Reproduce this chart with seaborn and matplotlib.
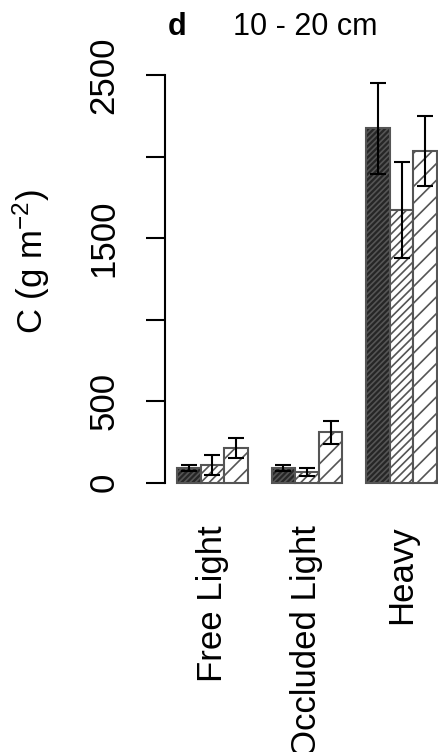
import numpy as np
import pandas as pd
import seaborn as sns
import matplotlib.pyplot as plt

# 数据
fractions = ['Free Light', 'Occluded Light', 'Heavy']
treatments = ['T1', 'T2', 'T3']
means_t1 = [90, 88, 2173]
means_t2 = [110, 67, 1673]
means_t3 = [212, 310, 2036]
errs_t1 = [20, 19, 278]
errs_t2 = [62, 23, 294]
errs_t3 = [60, 70, 215]
y_ticks = [0, 500, 1000, 1500, 2000, 2500]
y_tick_labels = ['0', '500', '', '1500', '', '2500']

means = [means_t1, means_t2, means_t3]
errs = [errs_t1, errs_t2, errs_t3]
rows = []
for t, m_list, e_list in zip(treatments, means, errs):
    for f, m, e in zip(fractions, m_list, e_list):
        rows.append({'fraction': f, 'treatment': t, 'carbon': m, 'err': e})
df = pd.DataFrame(rows)

sns.set_style('ticks')
plt.rcParams['font.family'] = ['Liberation Sans', 'DejaVu Sans']
plt.rcParams['mathtext.fontset'] = 'custom'
plt.rcParams['mathtext.rm'] = 'Liberation Sans'
plt.rcParams['mathtext.it'] = 'Liberation Sans'
plt.rcParams['text.color'] = 'black'
plt.rcParams['axes.labelcolor'] = 'black'
plt.rcParams['xtick.color'] = 'black'
plt.rcParams['ytick.color'] = 'black'
plt.rcParams['hatch.linewidth'] = 1.2

fig = plt.figure(figsize=(4.38, 7.52), dpi=100)
ax = fig.add_axes([165 / 438, 0.3364, 1 - 165 / 438, 0.5856])

sns.barplot(data=df, x='fraction', y='carbon', hue='treatment',
            order=fractions, hue_order=treatments, errorbar=None,
            width=0.75, gap=0, palette=['#262626', 'white', 'white'],
            edgecolor='#555555', linewidth=1.5, legend=False, ax=ax)

hatches = ['//////', '////', '//']
for cont, hatch, t in zip(ax.containers, hatches, treatments):
    sub = df[df['treatment'] == t].set_index('fraction').loc[fractions]
    xs = []
    for bar in cont:
        bar.set_hatch(hatch)
        xs.append(bar.get_x() + bar.get_width() / 2)
    ax.errorbar(xs, sub['carbon'], yerr=sub['err'], fmt='none',
                ecolor='black', elinewidth=1.5, capsize=6, capthick=1.5)

ax.set_xlim(-0.502, 2.386)
ax.set_ylim(-100, 2600)
ax.set_yticks(y_ticks)
ax.set_yticklabels(y_tick_labels, rotation=90, va='center', fontsize=25)
ax.tick_params(axis='y', length=14, width=1.5, pad=18)
ax.tick_params(axis='x', length=0, pad=19, labelsize=25)
for lab in ax.get_xticklabels():
    lab.set_rotation(90)
    lab.set_va('top')

ax.spines['top'].set_visible(False)
ax.spines['right'].set_visible(False)
ax.spines['bottom'].set_visible(False)
ax.spines['left'].set_bounds(0, 2500)
ax.spines['left'].set_linewidth(1.5)
ax.spines['left'].set_color('black')

ax.set_xlabel('')
ax.set_ylabel(r'C (g m$^{-2}$)', fontsize=25)
ax.yaxis.set_label_coords((52 - 165) / 273, 0.538)

fig.text(168 / 438, 1 - 35 / 752, 'd', fontsize=22, fontweight='bold',
         ha='left', va='baseline')
fig.text(233 / 438, 1 - 35 / 752, '10 - 20 cm', fontsize=22,
         ha='left', va='baseline')

plt.savefig('out.png', dpi=100)
